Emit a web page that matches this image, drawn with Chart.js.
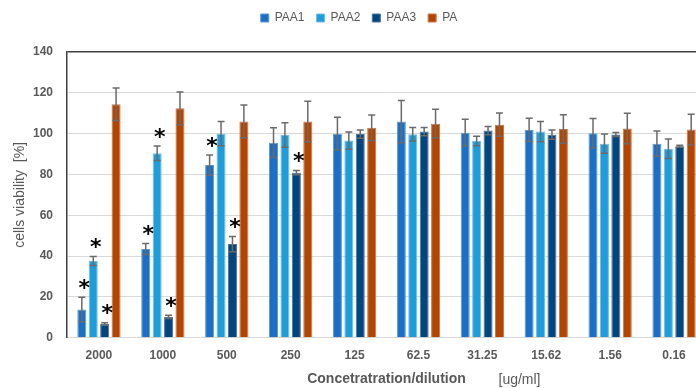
<!DOCTYPE html>
<html>
<head>
<meta charset="utf-8">
<script src="https://cdn.jsdelivr.net/npm/chart.js@4.4.1/dist/chart.umd.min.js"></script>
<style>
  html, body { margin: 0; padding: 0; background: #fff; overflow: hidden; }
  #wrap { width: 706px; height: 388px; position: relative; }
</style>
</head>
<body>
<div id="wrap"><canvas id="c"></canvas></div>
<script>
const categories = ['2000', '1000', '500', '250', '125', '62.5', '31.25', '15.62', '1.56', '0.16'];
const seriesNames = ['PAA1', 'PAA2', 'PAA3', 'PA'];

const paa1 = [13.9, 43.5, 84.6, 95.6, 100.0, 105.9, 100.5, 101.8, 100.2, 95.1];
const paa1Err = [6.0, 2.7, 5.0, 7.3, 8.0, 10.4, 6.5, 5.7, 7.2, 6.2];
const paa2 = [37.6, 90.4, 100.0, 99.3, 96.6, 99.7, 96.4, 101.0, 95.1, 92.6];
const paa2Err = [2.2, 3.5, 5.9, 6.0, 4.2, 3.3, 2.3, 5.0, 4.7, 4.8];
const paa3 = [6.8, 10.2, 45.9, 80.9, 99.8, 101.0, 101.5, 99.5, 99.6, 93.8];
const paa3Err = [0.6, 0.8, 3.7, 1.0, 2.0, 2.0, 2.0, 2.3, 1.0, 0.5];
const pa = [114.4, 112.4, 106.0, 105.9, 102.9, 104.9, 104.4, 102.3, 102.5, 102.0];
const paErr = [8.0, 8.0, 8.0, 10.0, 6.3, 7.0, 5.7, 7.0, 7.5, 7.5];

// significance markers (1 = "*")
const paa1Sig = [1, 1, 1, 0, 0, 0, 0, 0, 0, 0];
const paa2Sig = [1, 1, 0, 0, 0, 0, 0, 0, 0, 0];
const paa3Sig = [1, 1, 1, 1, 0, 0, 0, 0, 0, 0];
const paSig   = [0, 0, 0, 0, 0, 0, 0, 0, 0, 0];

const yTicks = [0, 20, 40, 60, 80, 100, 120, 140];

const colors = ['#1b70c6', '#1f9dda', '#03467f', '#b44500'];
const borders = ['#5d9ad6', '#6fbfe6', '#4b75a0', '#c9764a'];
const values = [paa1, paa2, paa3, pa];
const errors = [paa1Err, paa2Err, paa3Err, paErr];
const sigs = [paa1Sig, paa2Sig, paa3Sig, paSig];

const FONT = '"Liberation Sans", Arial, sans-serif';
const GREY = '#595959';

const legendGap = {
  id: 'legendGap',
  beforeInit(chart) {
    const fit = chart.legend.fit;
    chart.legend.fit = function () {
      fit.bind(chart.legend)();
      this.height += 18;
    };
  }
};

const errorBarPlugin = {
  id: 'errorBars',
  afterDatasetsDraw(chart) {
    const ctx = chart.ctx;
    const y = chart.scales.y;
    chart.data.datasets.forEach((ds, di) => {
      const meta = chart.getDatasetMeta(di);
      if (meta.hidden) return;
      meta.data.forEach((bar, i) => {
        const v = ds.data[i], e = errors[di][i];
        const top = y.getPixelForValue(v + e);
        const bot = y.getPixelForValue(v - e);
        ctx.save();
        ctx.strokeStyle = '#6a6a6a';
        ctx.lineWidth = 1.5;
        ctx.beginPath();
        ctx.moveTo(bar.x, top); ctx.lineTo(bar.x, bot);
        ctx.moveTo(bar.x - 3.5, top); ctx.lineTo(bar.x + 3.5, top);
        ctx.moveTo(bar.x - 3.5, bot); ctx.lineTo(bar.x + 3.5, bot);
        ctx.stroke();
        if (sigs[di][i]) {
          ctx.fillStyle = '#000';
          ctx.font = 'bold 22px "DejaVu Sans", sans-serif';
          ctx.textAlign = 'center';
          ctx.textBaseline = 'middle';
          ctx.fillText('*', bar.x + 2.5, top - 8);
        }
        ctx.restore();
      });
    });
  },
  afterDraw(chart) {
    const ctx = chart.ctx;
    const a = chart.chartArea;
    ctx.save();
    ctx.fillStyle = GREY;
    ctx.font = '14px ' + FONT;
    ctx.textAlign = 'left';
    ctx.textBaseline = 'middle';
    ctx.fillText('[ug/ml]', (a.left + a.right) / 2 + 112, a.bottom + 42);
    ctx.restore();
  }
};

new Chart(document.getElementById('c'), {
  type: 'bar',
  data: {
    labels: categories,
    datasets: seriesNames.map((n, i) => ({
      label: n,
      data: values[i],
      backgroundColor: colors[i],
      borderColor: borders[i],
      borderWidth: 1,
      barPercentage: 0.79,
      categoryPercentage: 0.715
    }))
  },
  options: {
    responsive: true,
    maintainAspectRatio: false,
    animation: false,
    layout: { padding: { left: 12, right: 0, top: 0, bottom: 0 } },
    plugins: {
      legend: {
        position: 'top',
        labels: {
          boxWidth: 8, boxHeight: 8, padding: 12,
          color: GREY,
          font: { family: FONT, size: 12 }
        }
      },
      tooltip: { enabled: false }
    },
    scales: {
      x: {
        grid: { display: false, drawTicks: false, tickLength: 0 },
        border: { color: '#d9d9d9', width: 1 },
        ticks: { color: GREY, font: { family: FONT, size: 12, weight: 'bold' }, padding: 11 },
        title: {
          display: true, text: 'Concetratration/dilution', color: GREY,
          font: { family: FONT, size: 14, weight: 'bold' }, padding: { top: -3, bottom: 0 }
        }
      },
      y: {
        min: 0, max: 140,
        afterBuildTicks(scale) { scale.ticks = yTicks.map(v => ({ value: v })); },
        afterFit(scale) { scale.width = 55; },
        grid: {
          color: ctx => (ctx.tick && ctx.tick.value === 140) ? '#404040' : '#d9d9d9',
          lineWidth: ctx => (ctx.tick && ctx.tick.value === 140) ? 1.5 : 1,
          drawTicks: false
        },
        border: { color: '#404040', width: 1.5 },
        ticks: { color: GREY, font: { family: FONT, size: 12, weight: 'bold' }, padding: 14 },
        title: {
          display: true, text: 'cells viability  [%]', color: GREY,
          font: { family: FONT, size: 14 }, padding: { top: 0, bottom: 4 }
        }
      }
    }
  },
  plugins: [legendGap, errorBarPlugin]
});
</script>
</body>
</html>
